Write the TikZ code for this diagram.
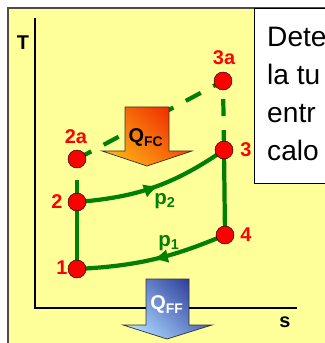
\documentclass[tikz,border=0pt]{standalone}
\usepackage{fontspec}
\setmainfont{Liberation Sans}
\usetikzlibrary{arrows.meta,decorations.markings}

\definecolor{bgyellow}{HTML}{FFFF99}
\definecolor{cyclegreen}{RGB}{0,128,0}
\definecolor{qfctop}{RGB}{238,45,0}
\definecolor{qfcbot}{RGB}{255,175,20}
\definecolor{qfftop}{RGB}{45,60,155}
\definecolor{qffbot}{RGB}{170,215,255}

\begin{document}
\begin{tikzpicture}[x=0.03cm,y=-0.03cm,
  pt/.style={circle,draw=black,fill=red,inner sep=0pt,minimum size=0.54cm},
  lbl/.style={text=red,font=\bfseries\fontsize{17}{19}\selectfont,inner sep=0pt},
  axlbl/.style={font=\bfseries\fontsize{17}{19}\selectfont,inner sep=0pt},
  plbl/.style={text=cyclegreen,font=\bfseries\fontsize{17.5}{19}\selectfont,inner sep=0pt},
  proc/.style={line width=3.6pt,cyclegreen},
  ideal/.style={line width=3.6pt,cyclegreen,dash pattern=on 14.5pt off 12pt},
  flow/.style={postaction={decorate},decoration={markings,
    mark=at position #1 with {\arrow{Latex[length=13pt,width=12pt]}}}},
  fcarrow/.style={draw=black!80,line width=0.6pt,top color=qfctop,bottom color=qfcbot,shading angle=-45},
  ffarrow/.style={draw=black!80,line width=0.6pt,top color=qfftop,bottom color=qffbot,shading angle=-45}
]
\useasboundingbox (0,0) rectangle (324,343);
\fill[white] (0,0) rectangle (324,343);
\draw[gray!60!black,line width=1pt,fill=bgyellow] (8,8) rectangle (340,360);

% enunciado
\draw[fill=white,line width=0.8pt] (254,8) rectangle (340,183);
\node[anchor=base west,align=left,inner sep=0pt,font=\fontsize{24}{32.2}\selectfont] (task) at (267,160) {Dete\\la tu\\entr\\calo};

% ejes T-s
\coordinate (ytop) at (35,18);
\coordinate (o) at (35,308);
\coordinate (xend) at (297,308);
\draw[line width=1.3pt] (ytop) -- (o) -- (xend);
\node[axlbl] (T) at (23,43) {T};
\node[axlbl] (s) at (285,322) {s};

% estados
\coordinate (c1) at (77,269);
\coordinate (c2) at (77,202);
\coordinate (c2a) at (77,159);
\coordinate (c3) at (224,150);
\coordinate (c3a) at (223,81);
\coordinate (c4) at (225,235);

\draw[ideal,dash phase=11pt] (c3a) -- (c3);
\draw[ideal,dash phase=5pt] (c3a) -- (c2a);
\draw[ideal,dash phase=22pt] (c2) -- (c2a);
\draw[proc,flow=.53] (c2) to[bend right=15] (c3);
\draw[proc] (c3) -- (c4);
\draw[proc,flow=.5] (c4) to[bend left=10] (c1);
\draw[proc] (c1) -- (c2);

\node[plbl] (p2) at (165,201) {p\textsubscript{2}};
\node[plbl] (p1) at (169,243) {p\textsubscript{1}};

% calor
\path[fcarrow] (125,107) -- (169,107) -- (169,151) -- (192,151) -- (147,166)
  -- (102,151) -- (125,151) -- cycle;
\node[font=\bfseries\fontsize{17}{19}\selectfont] (qfc) at (146,138) {Q\textsubscript{FC}};
\path[ffarrow] (146,279) -- (189,279) -- (189,325) -- (212,325) -- (167,339)
  -- (123,325) -- (146,325) -- cycle;
\node[text=white,font=\bfseries\fontsize{17}{19}\selectfont] (qff) at (167,305) {Q\textsubscript{FF}};

\foreach \s in {1,2,2a,3,3a,4}
  \node[pt] (p\s) at (c\s) {};

\node[lbl] (l1) at (62,268) {1};
\node[lbl] (l2) at (57,202) {2};
\node[lbl] (l2a) at (76,137) {2a};
\node[lbl] (l3) at (246,150) {3};
\node[lbl] (l3a) at (224,58) {3a};
\node[lbl] (l4) at (246,235) {4};
\end{tikzpicture}
\end{document}
